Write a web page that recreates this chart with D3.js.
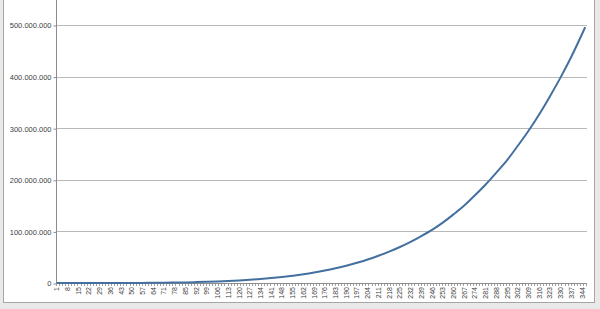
<!DOCTYPE html>
<html>
<head>
<meta charset="utf-8">
<script src="https://cdn.jsdelivr.net/npm/d3@7"></script>
<style>
  body { margin: 0; background: #e9e9e9; }
  svg { display: block; font-family: "Liberation Sans", Arial, sans-serif; }
</style>
</head>
<body>
<div id="chart"></div>
<script>
const width = 600;
const height = 309;

const dayCount = 346;

// x tick labels as shown on the category axis
const tickLabels = [1, 8, 15, 22, 29, 36, 43, 50, 57, 64, 71, 78, 85, 92, 99, 106, 113, 120, 127, 134,
    141, 148, 155, 162, 169, 176, 183, 190, 197, 204, 211, 218, 225, 232, 239, 246, 253, 260, 267, 274,
    281, 288, 295, 302, 309, 316, 323, 330, 337, 344];

const sampleDays = [1, 8, 15, 22, 29, 36, 43, 50, 57, 64, 71, 78, 85, 92, 99, 106, 113, 120, 127, 134,
    141, 148, 155, 162, 169, 176, 183, 190, 197, 204, 211, 218, 225, 232, 239, 246, 253, 260, 267, 274,
    281, 288, 295, 302, 309, 316, 323, 330, 337, 344, 346];
const sampleValues = [0, 0, 0, 0, 0.01, 0.03, 0.06, 0.12, 0.2, 0.35, 0.55, 0.8, 1.2, 1.7, 2.3, 3.0, 3.9, 5.0, 6.3, 7.8,
    9.6, 11.7, 14.2, 17.0, 20.3, 24.1, 28.5, 33.5, 39.2, 45.6, 52.8, 60.8, 69.8, 79.8, 91, 103, 117, 133, 150, 170,
    191, 214, 238, 266, 295, 327, 362, 399, 439, 483, 496];

const yTicks = [0, 100e6, 200e6, 300e6, 400e6, 500e6];

const margin = { left: 56, right: 586, top: 25, bottom: 283 };

const locale = d3.formatLocale({ decimal: ",", thousands: ".", grouping: [3], currency: ["", ""] });
const fmt = locale.format(",");

const svg = d3.select("#chart")
    .append("svg")
    .attr("width", width)
    .attr("height", height);

// spreadsheet behind and chart area
svg.append("rect")
    .attr("width", width).attr("height", height)
    .attr("fill", "#e9e9e9");
svg.append("rect")
    .attr("x", 3.5).attr("y", -2)
    .attr("width", 591).attr("height", 304.5)
    .attr("fill", "#fff")
    .attr("stroke", "#a6a6a6");

const x = d3.scaleLinear()
    .domain([0.5, dayCount + 0.5])
    .range([margin.left, margin.right]);

const y = d3.scaleLinear()
    .domain([0, 500e6])
    .range([margin.bottom, margin.top]);

// gridlines
svg.append("g")
    .selectAll("line")
    .data(yTicks.slice(1))
    .join("line")
    .attr("x1", margin.left).attr("x2", margin.right + 1)
    .attr("y1", (d) => Math.round(y(d)) + 0.5)
    .attr("y2", (d) => Math.round(y(d)) + 0.5)
    .attr("stroke", "#b8b8b8");

// y axis
const yAxis = svg.append("g")
    .attr("transform", `translate(${margin.left + 0.5},0.5)`)
    .call(d3.axisLeft(y).tickValues(yTicks).tickFormat(fmt).tickSize(3).tickPadding(2));
yAxis.select(".domain").attr("stroke", "#8c8c8c").attr("d", `M0,-5V${margin.bottom}`);
yAxis.selectAll(".tick line").attr("stroke", "#8c8c8c");
yAxis.selectAll("text")
    .attr("fill", "#404040")
    .style("font-size", "7.5px");

// x axis line and ticks
svg.append("line")
    .attr("x1", margin.left).attr("x2", margin.right + 1)
    .attr("y1", margin.bottom + 0.5).attr("y2", margin.bottom + 0.5)
    .attr("stroke", "#8c8c8c");

svg.append("g")
    .selectAll("line")
    .data(d3.range(0, dayCount + 1, 2))
    .join("line")
    .attr("x1", (d) => Math.round(x(d + 0.5)) + 0.5)
    .attr("x2", (d) => Math.round(x(d + 0.5)) + 0.5)
    .attr("y1", margin.bottom + 1)
    .attr("y2", margin.bottom + 3)
    .attr("stroke", "#a0a0a0");

svg.append("g")
    .selectAll("text")
    .data(tickLabels)
    .join("text")
    .attr("transform", (d) => `translate(${x(d)},${margin.bottom + 4}) rotate(-90)`)
    .attr("text-anchor", "end")
    .attr("dy", "0.35em")
    .attr("fill", "#404040")
    .style("font-size", "7px")
    .text((d) => d);

// series line
const points = sampleDays.map((d, i) => [d, sampleValues[i] * 1e6]);

svg.append("path")
    .datum(points)
    .attr("fill", "none")
    .attr("stroke", "#44709f")
    .attr("stroke-width", 2)
    .attr("stroke-linejoin", "round")
    .attr("d", d3.line()
        .x((d) => x(d[0]))
        .y((d) => y(d[1]))
        .curve(d3.curveMonotoneX));
</script>
</body>
</html>
